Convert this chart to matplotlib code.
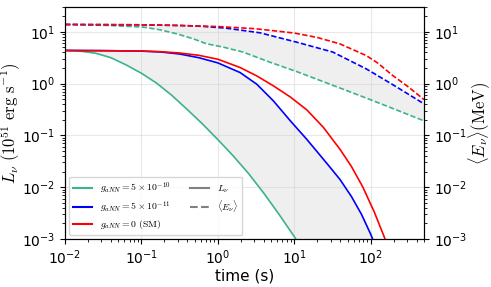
import numpy as np
import matplotlib
matplotlib.use("Agg")
import matplotlib.pyplot as plt
from matplotlib.lines import Line2D

plt.rcParams["mathtext.fontset"] = "cm"

# ── Data ──────────────────────────────────────────────────────────
# luminosity, g_aNN = 5e-10
t_g = [0.01, 0.0158, 0.0251, 0.0398, 0.0631, 0.1, 0.158, 0.251, 0.398, 0.631,
       1.0, 1.58, 2.51, 3.98, 6.31, 10.0, 11.2]
L_g = [4.35, 4.22, 3.85, 3.16, 2.29, 1.58, 1.02, 0.589, 0.316, 0.166,
       0.0832, 0.0407, 0.0186, 0.00776, 0.00302, 0.00112, 0.00087]
# luminosity, g_aNN = 5e-11
t_b = [0.01, 0.0316, 0.1, 0.178, 0.316, 0.562, 1.0, 1.96, 3.25, 5.37, 8.91,
       14.7, 28.2, 39.8, 56.2, 75.9, 100.0, 112.0]
L_b = [4.35, 4.32, 4.22, 4.07, 3.72, 3.16, 2.51, 1.63, 0.968, 0.46, 0.191,
       0.0832, 0.0263, 0.0141, 0.00661, 0.00302, 0.00126, 0.000832]
# luminosity, g_aNN = 0 (SM)
t_r = [0.01, 0.1, 0.178, 0.316, 0.562, 1.0, 1.96, 3.25, 5.37, 8.91, 14.7,
       24.3, 40.3, 56.2, 79.4, 112.0, 155.0, 166.0]
L_r = [4.35, 4.25, 4.12, 3.89, 3.51, 2.95, 2.04, 1.40, 0.899, 0.55, 0.309,
       0.141, 0.0525, 0.0251, 0.01, 0.00331, 0.001, 0.000759]

# mean energy, g_aNN = 5e-10
tE_g = [0.01, 0.0389, 0.105, 0.175, 0.288, 0.475, 0.711, 1.17, 2.14, 4.79,
        10.7, 31.6, 87.9, 195.0, 500.0]
E_g  = [13.8, 13.2, 12.3, 10.9, 9.14, 7.33, 5.86, 5.06, 4.05, 2.59,
        1.71, 0.933, 0.525, 0.331, 0.191]
# mean energy, g_aNN = 5e-11
tE_b = [0.01, 0.1, 0.316, 0.631, 1.3, 3.55, 10.7, 32.1, 87.9, 195.0, 500.0]
E_b  = [13.8, 13.6, 13.2, 12.7, 11.7, 9.55, 6.31, 4.05, 1.92, 0.955, 0.407]
# mean energy, g_aNN = 0 (SM)
tE_r = [0.01, 0.1, 0.316, 1.0, 3.16, 10.0, 20.0, 39.8, 87.9, 126.0, 195.0,
        316.0, 500.0]
E_r  = [13.8, 13.6, 13.2, 12.6, 11.4, 9.44, 7.76, 5.82, 3.47, 2.45, 1.43,
        0.851, 0.49]

GREEN, BLUE, RED = "#3cb38a", "#0000ff", "#ff0000"
labels = [r"$g_{aNN} = 5 \times 10^{-10}$",
          r"$g_{aNN} = 5 \times 10^{-11}$",
          r"$g_{aNN} = 0\ \mathrm{(SM)}$"]

# ── Plot ──────────────────────────────────────────────────────────
fig = plt.figure(figsize=(4.91, 2.87), dpi=100)
ax = fig.add_axes([0.1324, 0.1672, 0.731, 0.8084])

# shaded bands between g=5e-10 and g=5e-11
ax.fill(np.concatenate([t_g, t_b[::-1]]), np.concatenate([L_g, L_b[::-1]]),
        color="lightgray", alpha=0.35, lw=0, zorder=1)
ax.fill(np.concatenate([tE_g, tE_b[::-1]]), np.concatenate([E_g, E_b[::-1]]),
        color="lightgray", alpha=0.35, lw=0, zorder=1)

lw = 1.2
dash = (3.2, 1.4)
ax.plot(t_g, L_g, color=GREEN, lw=lw, zorder=3)
ax.plot(t_b, L_b, color=BLUE, lw=lw, zorder=3)
ax.plot(t_r, L_r, color=RED, lw=lw, zorder=3)
ax.plot(tE_g, E_g, color=GREEN, lw=lw, ls=(0, dash), zorder=3)
ax.plot(tE_b, E_b, color=BLUE, lw=lw, ls=(0, dash), zorder=3)
ax.plot(tE_r, E_r, color=RED, lw=lw, ls=(0, dash), zorder=3)

ax.set_xscale("log")
ax.set_yscale("log")
ax.set_xlim(1e-2, 500)
ax.set_ylim(1e-3, 30)
ax.grid(True, which="major", color="lightgray", alpha=0.5, lw=0.8)
ax.set_xlabel("time (s)", fontsize=11, labelpad=1)
ax.set_ylabel(r"$L_\nu\ (10^{51}\ \mathrm{erg\ s^{-1}})$", fontsize=12)
ax.yaxis.set_label_coords(-0.118, 0.5)
ax.tick_params(labelsize=10)

ax2 = ax.twinx()
ax2.set_yscale("log")
ax2.set_ylim(1e-3, 30)
ax2.set_ylabel(r"$\langle E_\nu \rangle (\mathrm{MeV})$", fontsize=12)
ax2.yaxis.set_label_coords(1.118, 0.5)
ax2.tick_params(labelsize=10)

handles = [Line2D([], [], color=GREEN, lw=1.5),
           Line2D([], [], color=BLUE, lw=1.5),
           Line2D([], [], color=RED, lw=1.5),
           Line2D([], [], color="gray", lw=1.5),
           Line2D([], [], color="gray", lw=1.5, ls="--"),
           Line2D([], [], color="none")]
leg_labels = labels + [r"$L_\nu$", r"$\langle E_\nu \rangle$", ""]
ax.legend(handles, leg_labels, loc="lower left", ncol=2, fontsize=7,
          framealpha=0.8, borderaxespad=0.4, columnspacing=2.0,
          handlelength=2.0, labelspacing=0.35)

fig.savefig("out.png", dpi=100)
